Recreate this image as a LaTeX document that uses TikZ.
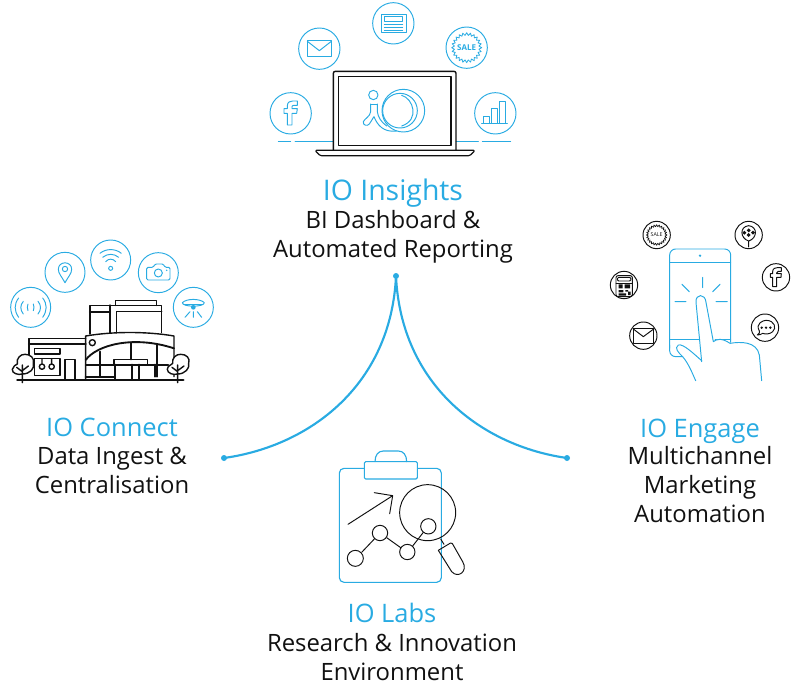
\documentclass[tikz,border=0pt]{standalone}
\usepackage{fontspec}
\setmainfont{Open Sans}
\definecolor{ioblue}{HTML}{29ABE2}
\definecolor{ioink}{HTML}{111111}
\tikzset{
  titletext/.style={text=ioblue,font=\fontsize{19.1pt}{22pt}\selectfont,inner sep=0pt,anchor=base},
  bigtitle/.style={titletext,font=\fontsize{21.3pt}{24pt}\selectfont},
  bodytext/.style={text=ioink,font=\fontsize{17.9pt}{21.75pt}\selectfont,align=center,inner sep=0pt,anchor=north},
  bl/.style={draw=ioblue,line width=0.72pt,line join=round,line cap=round},
  bk/.style={draw=ioink,line width=0.72pt,line join=round,line cap=round},
  bkthick/.style={draw=ioink,line width=1.05pt,line join=round},
  link/.style={draw=ioblue,line width=1.6pt},
  enddot/.style={fill=ioblue,draw=none},
  zoomed/.style 2 args={x=0.25pt,y=-0.25pt,shift={(#1*0.75pt,-#2*0.75pt)}}
}
\begin{document}
\begin{tikzpicture}[x=0.75pt,y=-0.75pt]
\useasboundingbox (0,0) rectangle (797,685);

% ---------- connectors
\coordinate (apex) at (396,276);
\coordinate (leftend) at (224,458);
\coordinate (rightend) at (567,458);
\draw[link] (apex) .. controls (391,385) and (310,446) .. (leftend);
\draw[link] (apex) .. controls (401,385) and (482,446) .. (rightend);
\fill[enddot] (apex) circle (3); \fill[enddot] (leftend) circle (3); \fill[enddot] (rightend) circle (3);

% ---------- text
\node[bigtitle] (t1) at (393,200) {IO Insights};
\node[bodytext] (b1) at (393,210) {BI Dashboard \&\\Automated Reporting};
\node[titletext] (t2) at (112,436) {IO Connect};
\node[bodytext] (b2) at (112,447) {Data Ingest \&\\Centralisation};
\node[titletext] (t3) at (700,437) {IO Engage};
\node[bodytext] (b3) at (700,446.5) {Multichannel\\Marketing\\Automation};
\node[titletext] (t4) at (392,622) {IO Labs};
\node[bodytext] (b4) at (392,633) {Research \& Innovation\\Environment};

% ---------- IO Insights icon
\begin{scope}[zoomed={260}{0}]
  \foreach \p in {(92,340),(178,146),(400,70),(620,143),(706,340)} \draw[bl] \p circle (62);
  % f
  \draw[bl] (82,375)--(82,340)--(72,340)--(72,326)--(82,326)--(82,318) .. controls (82,306) and (90,303) .. (98,303)--(112,303)--(112,316)--(102,316) .. controls (97,316) and (96,318) .. (96,321)--(96,326)--(112,326)--(110,340)--(96,340)--(96,375)--cycle;
  % mail
  \draw[bl] (142,122) rectangle (214,170);
  \draw[bl] (142,124)--(178,152)--(214,124);
  % news
  \draw[bl] (363,42) rectangle (438,98);
  \draw[bl] (373,50) rectangle (428,64);
  \draw[bl] (373,73)--(428,73) (373,82)--(428,82) (373,91)--(428,91);
  % sale
  \draw[bl,line width=0.6pt] plot[samples=49,domain=0:360] ({620+(41+4*cos(24*\x))*cos(\x)},{143+(41+4*cos(24*\x))*sin(\x)});
  \node[text=ioblue,font=\fontsize{6pt}{6pt}\selectfont\bfseries,inner sep=0pt] (salea) at (620,144) {SALE};
  % chart
  \draw[bl] (670,370)--(670,348)--(688,348)--(688,370);
  \draw[bl] (694,370)--(694,326)--(713,326)--(713,370);
  \draw[bl] (719,370)--(719,305)--(737,305)--(737,370);
  \draw[bl] (665,370)--(742,370);
  % ground lines
  \draw[bl] (55,424)--(92,424) (105,424)--(220,424) (588,424)--(655,424) (667,424)--(752,424);
  % laptop
  \draw[bkthick,rounded corners=1.5pt] (220,450)--(220,214)--(588,214)--(588,450);
  \draw[bkthick] (236,230) rectangle (573,436);
  \draw[bk,line width=0.9pt,rounded corners=1pt] (165,451)--(645,451)--(630,467)--(180,467)--cycle;
  % logo
  \draw[bl] (340,285) circle (14);
  \draw[bl] (430,332) circle (64);
  \draw[bl] (420,332) circle (52);
  \draw[bl] (425,286) .. controls (460,295) and (480,360) .. (425,378);
  \draw[bl] (332,312)--(332,335) .. controls (330,350) and (315,355) .. (310,365) .. controls (308,376) and (322,380) .. (328,372) .. controls (335,362) and (340,352) .. (342,350) .. controls (352,375) and (370,398) .. (410,393);
  \draw[bl] (352,312)--(352,335) .. controls (354,350) and (362,365) .. (380,378);
  \draw[bl] (332,312)--(352,312);
\end{scope}

% ---------- IO Connect icon
\begin{scope}[zoomed={0}{230}]
  \foreach \p in {(92,232),(195,127),(332,90),(475,128),(580,232)} \draw[bl] \p circle (60);
  % signal
  \draw[bl] (84,222)--(82,232)--(84,242) (100,222)--(102,232)--(100,242);
  \draw[bl] (70,214) .. controls (60,225) and (60,240) .. (70,252);
  \draw[bl] (114,214) .. controls (124,225) and (124,240) .. (114,252);
  \draw[bl] (56,204) .. controls (42,222) and (42,242) .. (56,262);
  \draw[bl] (128,204) .. controls (142,222) and (142,242) .. (128,262);
  % pin
  \draw[bl] (195,158) .. controls (185,140) and (175,130) .. (175,118) .. controls (175,92) and (215,92) .. (215,118) .. controls (215,130) and (205,140) .. (195,158)--cycle;
  \draw[bl] (195,117) circle (8);
  % wifi
  \draw[bl] (332,115) circle (6);
  \draw[bl] (317,95) .. controls (325,85) and (339,85) .. (347,95);
  \draw[bl] (308,82) .. controls (322,70) and (342,70) .. (356,82);
  \draw[bl] (300,70) .. controls (318,55) and (346,55) .. (364,70);
  % camera
  \draw[bl,rounded corners=1pt] (440,150)--(440,112)--(460,112)--(465,102)--(490,102)--(495,112)--(510,112)--(510,150)--cycle;
  \draw[bl] (475,129) circle (12);
  \fill[ioblue] (500,121) circle (2.5);
  % sensor
  \draw[bl] (547,218) .. controls (560,205) and (600,205) .. (613,218) .. controls (613,232) and (547,232) .. (547,218)--cycle;
  \draw[bl] (552,224)--(608,224);
  \fill[ioblue] (580,232) circle (7);
  \draw[bl] (570,245)--(555,262) (580,245)--(580,262) (592,245)--(605,262);
  % building
  \begin{scope}[every path/.append style={bkthick,line cap=round}]
    \draw (347,226)--(347,212)--(470,212)--(470,226);
    \draw (270,312)--(270,226)--(485,226)--(485,308);
    \draw[line width=1.7pt] (270,245)--(330,245);
    \draw[line width=1.7pt] (330,226)--(330,308);
    \draw (350,308)--(350,245)--(485,245);
    \draw (257,450)--(257,318) .. controls (340,304) and (440,304) .. (522,318)--(522,440);
    \draw[line width=1.4pt] (257,390) .. controls (290,345) and (400,315) .. (522,355);
    \draw (277,338) circle (9);
    \draw[line width=1.6pt] (392,337)--(392,388);
    \draw[line width=1.6pt] (300,365)--(300,440);
    \draw[line width=1.6pt] (472,345)--(472,440);
    \draw (257,405)--(345,405) (442,405)--(505,405);
    \draw[line width=1.6pt] (257,440)--(345,440);
    \draw (342,403)--(342,388)--(442,388)--(442,403);
    \draw[line width=1.6pt] (342,404)--(442,404);
    \draw[line width=1.4pt] (345,404)--(345,448) (395,404)--(395,448) (416,404)--(416,448) (465,404)--(465,440);
    \draw (87,375)--(87,326)--(257,326);
    \draw[line width=1.7pt] (87,343)--(257,343);
    \draw (103,356) rectangle (180,372);
    \draw (103,436)--(103,386)--(180,386)--(180,436)--cycle;
    \draw (126,410) circle (8) (155,410) circle (8) (126,386)--(126,402) (155,386)--(155,402);
    \draw (195,450)--(195,388)--(225,388)--(225,450);
    \draw[line width=1.9pt] (52,450)--(550,450);
    % trees
    \draw[fill=white] (67,432) .. controls (55,436) and (35,430) .. (37,418) .. controls (38,408) and (48,405) .. (52,402) .. controls (48,385) and (62,372) .. (75,373) .. controls (90,372) and (105,385) .. (100,400) .. controls (105,415) and (90,432) .. (67,432)--cycle;
    \draw (67,458)--(67,405) (67,425)--(50,412) (67,422)--(85,408);
    \draw[fill=white] (533,432) .. controls (520,436) and (502,430) .. (502,418) .. controls (502,408) and (515,404) .. (518,400) .. controls (515,385) and (528,372) .. (542,373) .. controls (558,372) and (572,385) .. (566,400) .. controls (570,415) and (555,432) .. (533,432)--cycle;
    \draw (533,458)--(533,405) (533,425)--(516,412) (533,422)--(552,408);
  \end{scope}
\end{scope}

% ---------- IO Engage icon
\begin{scope}[zoomed={600}{215}]
  \foreach \p in {(170,60),(446,60),(528,187),(495,338),(130,362),(72,210)} \draw[bk] \p circle (41);
  % sale
  \draw[bk,line width=0.5pt] plot[samples=49,domain=0:360] ({170+(28+3*cos(24*\x))*cos(\x)},{60+(28+3*cos(24*\x))*sin(\x)});
  \node[text=ioink,font=\fontsize{4pt}{4pt}\selectfont,inner sep=0pt] (saleb) at (170,60) {SALE};
  % geo pin
  \draw[bk] (446,96)--(446,78) (446,78) .. controls (420,70) and (418,35) .. (446,32) .. controls (474,35) and (472,70) .. (446,78);
  \fill[ioink] (446,40) -- (452,46) -- (446,52) -- (440,46) -- cycle (433,47) -- (439,53) -- (433,59) -- (427,53) -- cycle (459,47) -- (465,53) -- (459,59) -- (453,53) -- cycle (446,54) -- (452,60) -- (446,66) -- (440,60) -- cycle;
  % f
  \draw[bk] (518,215)--(518,187)--(511,187)--(511,176)--(518,176)--(518,170) .. controls (518,160) and (526,158) .. (532,158)--(544,158)--(544,169)--(535,169) .. controls (531,169) and (530,171) .. (530,174)--(530,176)--(544,176)--(543,187)--(530,187)--(530,215)--cycle;
  % chat
  \draw[bk] (472,360) .. controls (478,356) and (480,352) .. (478,348) .. controls (465,325) and (490,316) .. (498,316) .. controls (525,316) and (530,340) .. (518,350) .. controls (510,358) and (495,358) .. (488,355) .. controls (484,358) and (478,360) .. (472,360)--cycle;
  \foreach \x in {485,498,511} \fill[ioink] (\x,338) circle (4);
  % mail
  \draw[bk] (100,340) rectangle (161,384);
  \draw[bk] (100,342)--(130,365)--(161,342);
  % QR
  \draw[bk,rounded corners=1.5pt] (48,182) rectangle (97,245);
  \draw[bk,rounded corners=1pt] (52,187) rectangle (93,198);
  \draw[bk] (48,204)--(97,204);
  \fill[ioink] (56,208) rectangle (68,220) (74,208) rectangle (90,220) (56,225) rectangle (70,232) (76,225) rectangle (84,230) (84,230) rectangle (92,240) (56,235) rectangle (78,242);
  % phone
  \draw[bl,rounded corners=4.5pt] (209,400)--(209,102)--(392,102)--(392,382);
  \draw[bl] (209,141)--(392,141);
  \draw[bl] (209,372)--(335,372) (345,372)--(392,372);
  \draw[bl,rounded corners=4.5pt] (209,390)--(209,425)--(248,425);
  \fill[ioblue] (300,122) circle (4);
  \draw[bl] (308,187)--(308,218) (246,208)--(268,230) (360,208)--(338,230) (225,260)--(258,260) (348,260)--(382,260);
  % hand
  \draw[bl,fill=white] (305,440)--(288,262) .. controls (286,235) and (316,235) .. (318,262)--(340,380) .. controls (350,372) and (365,368) .. (390,385) .. controls (420,380) and (470,378) .. (478,420)--(485,497);
  \draw[bl] (287,497) .. controls (275,470) and (265,445) .. (248,425) .. controls (235,412) and (222,400) .. (235,390) .. controls (250,385) and (285,420) .. (305,437);
\end{scope}

% ---------- IO Labs icon
\begin{scope}[zoomed={330}{445}]
  \draw[bl,rounded corners=3.5pt,line width=0.85pt] (28,70) rectangle (334,412);
  \draw[bl,fill=white,rounded corners=1pt,line width=0.85pt] (103,50) rectangle (262,102);
  \draw[bl,line width=0.85pt] (135,50) .. controls (135,30) and (145,18) .. (160,18)--(205,18) .. controls (220,18) and (230,30) .. (230,50);
  \draw[bk] (54,238)--(188,152);
  \draw[bk] (133,143)--(188,152)--(179,206);
  \draw[bk] (293,203) circle (84);
  \draw[bk] (76,340) circle (24) (150,264) circle (23) (232,321) circle (23) (295,244) circle (23);
  \draw[bk] (95,322)--(133,282) (170,278)--(212,308) (248,303)--(280,262);
  \draw[bk] (332,282)--(342,298);
  \draw[bk,rounded corners=1pt] (325,316)--(365,292)--(398,350);
  \draw[bk] (398,350) .. controls (415,378) and (385,402) .. (365,380)--(325,316);
\end{scope}
\end{tikzpicture}
\end{document}
